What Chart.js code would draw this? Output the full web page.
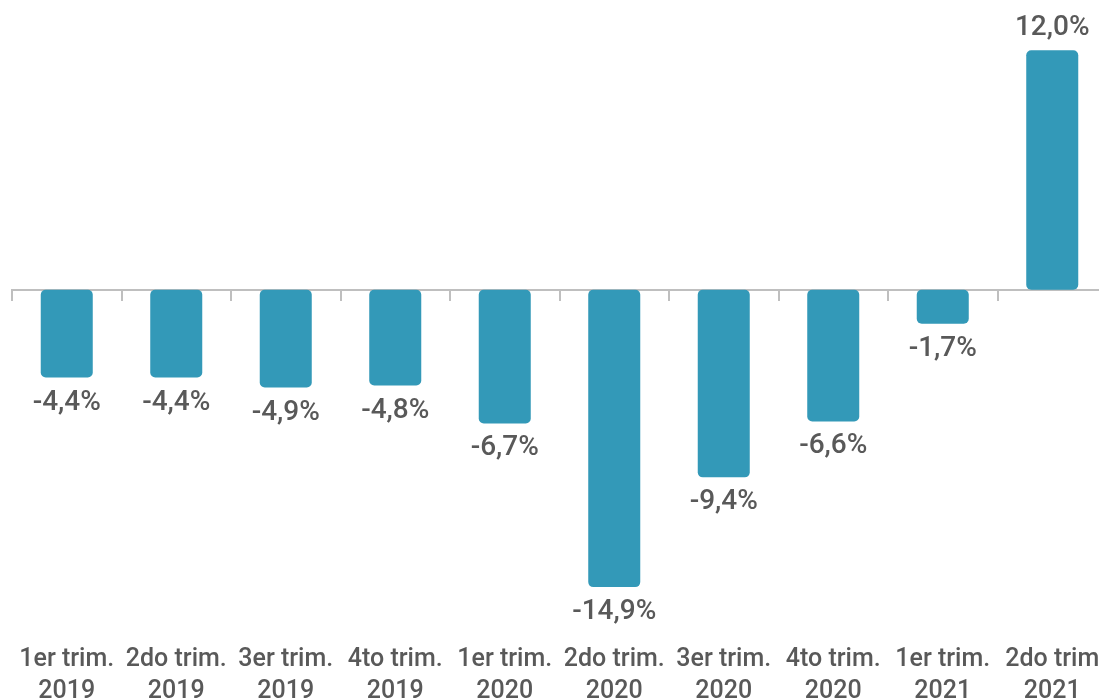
<!DOCTYPE html>
<html>
<head>
<meta charset="utf-8">
<script src="https://cdn.jsdelivr.net/npm/chart.js@4.4.1/dist/chart.umd.min.js"></script>
<style>
  html, body { margin: 0; padding: 0; background: #fff; overflow: hidden; }
  #wrap { width: 1107px; height: 700px; }
</style>
</head>
<body>
<div id="wrap"><canvas id="grafico" width="1107" height="700"></canvas></div>
<script>
const trimestres = ['1er trim.', '2do trim.', '3er trim.', '4to trim.', '1er trim.', '2do trim.', '3er trim.', '4to trim.', '1er trim.', '2do trim'];
const anios = ['2019', '2019', '2019', '2019', '2020', '2020', '2020', '2020', '2021', '2021'];
const variacion = [-4.4, -4.4, -4.9, -4.8, -6.7, -14.9, -9.4, -6.6, -1.7, 12.0];

const etiquetas = trimestres.map((t, i) => [t, anios[i]]);
const gris = '#595959';

// etiquetas de valor encima / debajo de cada barra
const valoresPlugin = {
  id: 'valores',
  afterDatasetsDraw(chart) {
    const ctx = chart.ctx;
    const meta = chart.getDatasetMeta(0);
    ctx.save();
    ctx.font = '500 28px Roboto';
    ctx.fillStyle = gris;
    ctx.textAlign = 'center';
    meta.data.forEach((bar, i) => {
      const v = variacion[i];
      const txt = v.toFixed(1).replace('.', ',') + '%';
      if (v < 0) {
        ctx.textBaseline = 'top';
        ctx.fillText(txt, bar.x, bar.y + 11);
      } else {
        ctx.textBaseline = 'bottom';
        ctx.fillText(txt, bar.x, bar.y - 8);
      }
    });
    ctx.restore();
  }
};

new Chart(document.getElementById('grafico'), {
  type: 'bar',
  data: {
    labels: etiquetas,
    datasets: [{
      data: variacion,
      backgroundColor: '#3399b8',
      borderRadius: 5,
      borderSkipped: false,
      barPercentage: 1,
      categoryPercentage: 0.475
    }]
  },
  options: {
    responsive: false,
    animation: false,
    layout: { padding: { left: 12, right: 0, top: 0, bottom: 0 } },
    plugins: { legend: { display: false }, tooltip: { enabled: false } },
    scales: {
      y: {
        display: false,
        min: -17.1,
        max: 14.52
      },
      x: {
        grid: { display: false },
        border: { display: false },
        afterFit(scale) { scale.height -= 12; },
        ticks: {
          color: gris,
          font: { family: 'Roboto', size: 25, weight: '500', lineHeight: 1.3 },
          maxRotation: 0,
          autoSkip: false,
          padding: 4
        }
      },
      x2: {
        type: 'category',
        labels: etiquetas,
        position: { y: 0 },
        offset: true,
        z: 1,
        grid: {
          offset: true,
          drawOnChartArea: false,
          drawTicks: true,
          tickLength: 10,
          color: '#bfbfbf',
          lineWidth: 2
        },
        border: { display: true, color: '#bfbfbf', width: 2 },
        ticks: { display: false }
      }
    }
  },
  plugins: [valoresPlugin]
});
</script>
</body>
</html>
